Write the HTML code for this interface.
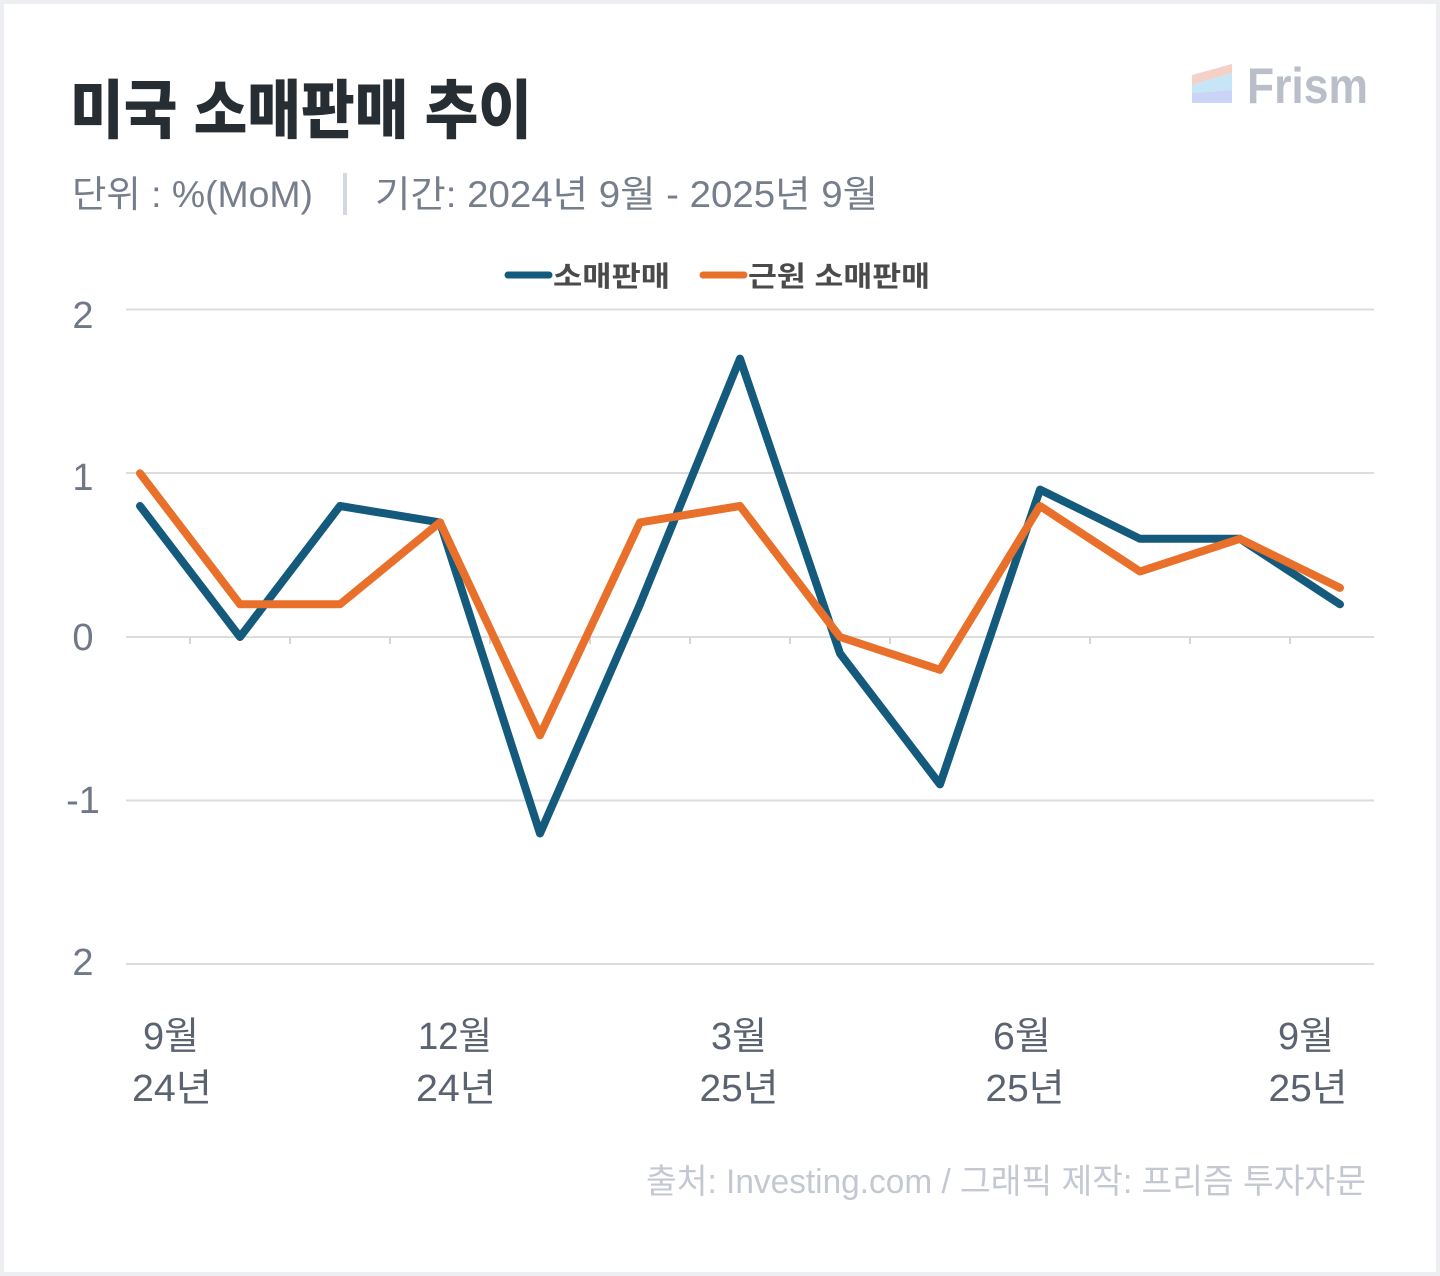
<!DOCTYPE html>
<html>
<head>
<meta charset="utf-8">
<style>
  html, body { margin: 0; padding: 0; background: #eceef2; }
  svg { display: block; }
  text { font-family: "Liberation Sans", "Noto Sans CJK KR", sans-serif; }
</style>
</head>
<body>
<svg width="1440" height="1276" viewBox="0 0 1440 1276" xmlns="http://www.w3.org/2000/svg">
  <rect x="0" y="0" width="1440" height="1276" fill="#eceef2"/>
  <rect x="4" y="4" width="1432" height="1268" fill="#ffffff"/>

  <!-- Title -->
  <text x="70" y="133" font-size="64" font-weight="900" fill="#262d33" textLength="462" lengthAdjust="spacingAndGlyphs">미국 소매판매 추이</text>

  <!-- Subtitle -->
  <text x="72" y="207" font-size="37" fill="#767d8b" textLength="241" lengthAdjust="spacingAndGlyphs">단위 : %(MoM)</text>
  <rect x="343" y="173" width="4" height="42" fill="#d3d7df"/>
  <text x="375" y="207" font-size="37" fill="#767d8b" textLength="503" lengthAdjust="spacingAndGlyphs">기간: 2024년 9월 - 2025년 9월</text>

  <!-- Logo -->
  <polygon points="1192,75 1232,64 1232,73 1192,85" fill="#f4d0c6"/>
  <polygon points="1192,85 1232,73 1232,90 1192,93" fill="#c6e5f6"/>
  <polygon points="1192,93 1232,90 1232,103 1192,103" fill="#cbd4f6"/>
  <text x="1247" y="103" font-size="50" font-weight="700" fill="#b9bec9" textLength="121" lengthAdjust="spacingAndGlyphs">Frism</text>

  <!-- Legend -->
  <line x1="508" y1="275" x2="549" y2="275" stroke="#135a7c" stroke-width="7" stroke-linecap="round"/>
  <text x="553" y="286" font-size="28" font-weight="700" fill="#4a4a4a" textLength="117" lengthAdjust="spacingAndGlyphs">소매판매</text>
  <line x1="703" y1="275" x2="744" y2="275" stroke="#e8702a" stroke-width="7" stroke-linecap="round"/>
  <text x="748" y="286" font-size="28" font-weight="700" fill="#4a4a4a" textLength="182" lengthAdjust="spacingAndGlyphs">근원 소매판매</text>

  <!-- Gridlines -->
  <g stroke="#dcdcdc" stroke-width="2">
    <line x1="126" y1="309.5" x2="1374" y2="309.5"/>
    <line x1="126" y1="473" x2="1374" y2="473"/>
    <line x1="126" y1="637" x2="1374" y2="637"/>
    <line x1="126" y1="800.5" x2="1374" y2="800.5"/>
    <line x1="126" y1="964" x2="1374" y2="964"/>
  </g>
  <!-- Ticks -->
  <g stroke="#d6d6d6" stroke-width="2">
    <line x1="190" y1="637" x2="190" y2="644"/>
    <line x1="290" y1="637" x2="290" y2="644"/>
    <line x1="390" y1="637" x2="390" y2="644"/>
    <line x1="490" y1="637" x2="490" y2="644"/>
    <line x1="590" y1="637" x2="590" y2="644"/>
    <line x1="690" y1="637" x2="690" y2="644"/>
    <line x1="790" y1="637" x2="790" y2="644"/>
    <line x1="890" y1="637" x2="890" y2="644"/>
    <line x1="990" y1="637" x2="990" y2="644"/>
    <line x1="1090" y1="637" x2="1090" y2="644"/>
    <line x1="1190" y1="637" x2="1190" y2="644"/>
    <line x1="1290" y1="637" x2="1290" y2="644"/>
  </g>

  <!-- Y labels -->
  <g font-size="38" fill="#707888" text-anchor="middle">
    <text x="83" y="328">2</text>
    <text x="83" y="490">1</text>
    <text x="83" y="650">0</text>
    <text x="83" y="813">-1</text>
    <text x="83" y="975">2</text>
  </g>

  <!-- Series -->
  <polyline fill="none" stroke="#135a7c" stroke-width="8" stroke-linecap="round" stroke-linejoin="round"
    points="140,506 240,637 340,506 440,522.4 540,833.5 640,604.3 740,358.6 840,653.4 940,784.4 1040,489.6 1140,538.8 1240,538.8 1340,604.3"/>
  <polyline fill="none" stroke="#e8702a" stroke-width="8" stroke-linecap="round" stroke-linejoin="round"
    points="140,473.3 240,604.3 340,604.3 440,522.4 540,735.3 640,522.4 740,506 840,637 940,669.8 1040,506 1140,571.5 1240,538.8 1340,587.9"/>

  <!-- X labels -->
  <g font-size="38" fill="#5b6270" text-anchor="middle">
    <text x="171" y="1049" textLength="56" lengthAdjust="spacingAndGlyphs">9월</text>
    <text x="172" y="1101" textLength="80" lengthAdjust="spacingAndGlyphs">24년</text>
    <text x="455" y="1049" textLength="74" lengthAdjust="spacingAndGlyphs">12월</text>
    <text x="456" y="1101" textLength="80" lengthAdjust="spacingAndGlyphs">24년</text>
    <text x="739" y="1049" textLength="56" lengthAdjust="spacingAndGlyphs">3월</text>
    <text x="739" y="1101" textLength="79" lengthAdjust="spacingAndGlyphs">25년</text>
    <text x="1022" y="1049" textLength="58" lengthAdjust="spacingAndGlyphs">6월</text>
    <text x="1025" y="1101" textLength="79" lengthAdjust="spacingAndGlyphs">25년</text>
    <text x="1306" y="1049" textLength="56" lengthAdjust="spacingAndGlyphs">9월</text>
    <text x="1308" y="1101" textLength="79" lengthAdjust="spacingAndGlyphs">25년</text>
  </g>

  <!-- Footer -->
  <text x="646" y="1193" font-size="34" fill="#c4c8d2" textLength="720" lengthAdjust="spacingAndGlyphs">출처: Investing.com / 그래픽 제작: 프리즘 투자자문</text>
</svg>
</body>
</html>
